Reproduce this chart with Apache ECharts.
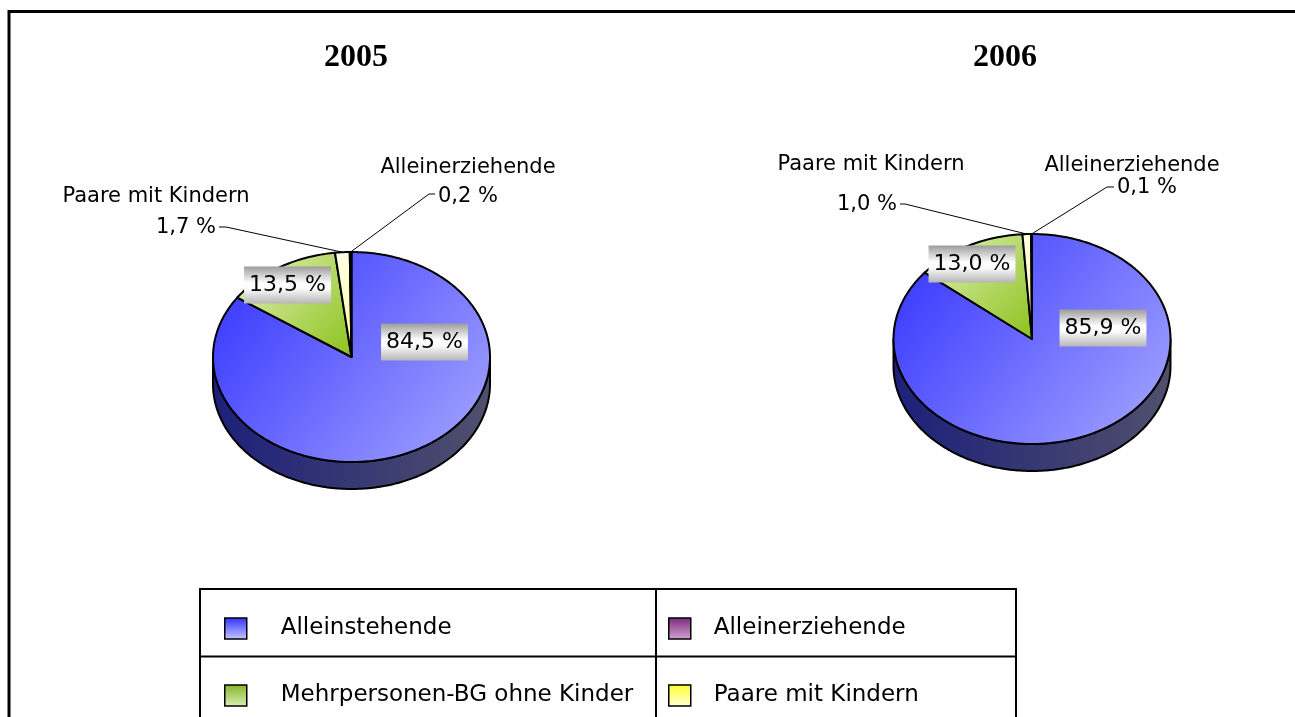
<!DOCTYPE html>
<html>
<head>
<meta charset="utf-8">
<title>Bedarfsgemeinschaften nach Typ 2005 / 2006</title>
<script src="https://cdn.jsdelivr.net/npm/echarts@6/dist/echarts.min.js"></script>
<style>
  html, body { margin: 0; padding: 0; background: #fff; }
  #main { width: 1295px; height: 717px; }
</style>
</head>
<body>
<div id="main"></div>
<script>
// Anteile (in %), Reihenfolge im Uhrzeigersinn ab 12 Uhr
var years = ['2005', '2006'];
var categories = ['Alleinstehende', 'Mehrpersonen-BG ohne Kinder', 'Paare mit Kindern', 'Alleinerziehende'];
var share2005 = [84.5, 13.5, 1.7, 0.2];
var share2006 = [85.9, 13.0, 1.0, 0.1];
var shares = [share2005, share2006];

// Legende in zwei Spalten
var legendCol1 = ['Alleinstehende', 'Mehrpersonen-BG ohne Kinder'];
var legendCol2 = ['Alleinerziehende', 'Paare mit Kindern'];

// --- Layout ---
var pieCenters = [[351.5, 357], [1032, 339]];
var titleX = [356, 1005];
var RX = 138.5, RY = 105, DEPTH = 27;
var FONT = 'DejaVu Sans';

// Farben je Kategorie: Oberseite, Seitenwand, Legendensymbol
var topColors = [['#3030ff', '#a8a8ff'], ['#e4f2bc', '#8cc21c'], ['#ffffe6', '#ffff9e'], ['#d0a0d0', '#993399']];
var sideColors = [['#1c207a', '#50506c'], ['#5a7a10', '#6a8a20'], ['#a0a060', '#b0b070'], ['#602060', '#703070']];
var legendColors = [['#3030ff', '#cacaff'], ['#84b426', '#ddefb6'], ['#ffff2e', '#ffffd8'], ['#7a2a7a', '#d4a4d4']];

// Beschriftung im Segment (Versatz zum Mittelpunkt)
var innerLabelPos = [
  [[73, -15], [-64, -72], null, null],
  [[71, -11], [-60, -75], null, null]
];
// Beschriftung außerhalb mit Führungslinie
var callouts = [
  [null, null,
    { name: [156, 197, 'center'], value: [216, 228, 'right'], elbow: [226, 227] },
    { name: [468, 168, 'center'], value: [438, 197, 'left'], elbow: [429, 194] }],
  [null, null,
    { name: [871, 165, 'center'], value: [897, 205, 'right'], elbow: [905, 204] },
    { name: [1132, 166, 'center'], value: [1117, 188, 'left'], elbow: [1107, 187] }]
];

function fmt(v) {
  return v.toFixed(1).replace('.', ',') + ' %';
}

function ellipsePt(c, a, dy) {
  return [c[0] + RX * Math.sin(a), c[1] - RY * Math.cos(a) + (dy || 0)];
}

function arcPts(c, a1, a2, dy) {
  var n = Math.max(2, Math.ceil((a2 - a1) / (Math.PI / 180)) + 1);
  var pts = [];
  for (var k = 0; k < n; k++) {
    pts.push(ellipsePt(c, a1 + (a2 - a1) * k / (n - 1), dy));
  }
  return pts;
}

function grad(x2, y2, cols) {
  return new echarts.graphic.LinearGradient(0, 0, x2, y2, [
    { offset: 0, color: cols[0] }, { offset: 1, color: cols[1] }
  ]);
}

function makeRender(ci) {
  return function (params, api) {
    var pi = params.dataIndex;
    var vals = shares[pi];
    var total = 0, before = 0;
    for (var j = 0; j < vals.length; j++) {
      total += vals[j];
      if (j < ci) before += vals[j];
    }
    var v = api.value(0);
    var a1 = before / total * Math.PI * 2;
    var a2 = (before + v) / total * Math.PI * 2;
    var c = pieCenters[pi];
    var children = [];

    // sichtbare Seitenwand (vordere Hälfte)
    var s = Math.max(a1, Math.PI / 2), e = Math.min(a2, Math.PI * 1.5);
    if (e > s) {
      var side = arcPts(c, s, e, 0).concat(arcPts(c, s, e, DEPTH).reverse());
      children.push({
        type: 'polygon',
        shape: { points: side },
        style: { fill: grad(1, 0, sideColors[ci]), stroke: '#000', lineWidth: 2, lineJoin: 'round' }
      });
    }

    // Oberseite
    children.push({
      type: 'polygon',
      shape: { points: [c].concat(arcPts(c, a1, a2, 0)) },
      style: { fill: grad(1, 1, topColors[ci]), stroke: '#000', lineWidth: 2, lineJoin: 'round' },
      z2: 1
    });

    var inner = innerLabelPos[pi][ci];
    if (inner) {
      children.push({
        type: 'text',
        x: c[0] + inner[0],
        y: c[1] + inner[1],
        z2: 100,
        style: {
          text: fmt(v),
          fontFamily: FONT,
          fontSize: 22,
          lineHeight: 25,
          fill: '#000',
          align: 'center',
          verticalAlign: 'middle',
          padding: [6, 5],
          backgroundColor: new echarts.graphic.LinearGradient(0, 0, 0, 1, [
            { offset: 0, color: '#9c9c9c' },
            { offset: 0.45, color: '#ffffff' },
            { offset: 0.6, color: '#fbfbfb' },
            { offset: 1, color: '#b6b6b6' }
          ])
        }
      });
    }

    var co = callouts[pi][ci];
    if (co) {
      var mid = ellipsePt(c, (a1 + a2) / 2, 0);
      var sx = co.value[2] === 'left' ? co.value[0] - 3 : co.value[0] + 3;
      children.push({
        type: 'polyline',
        z2: 90,
        shape: { points: [[sx, co.elbow[1]], co.elbow, mid] },
        style: { stroke: '#000', lineWidth: 1, fill: null }
      });
      children.push({
        type: 'text', x: co.name[0], y: co.name[1], z2: 100,
        style: { text: categories[ci], fontFamily: FONT, fontSize: 21, fill: '#000', align: co.name[2], verticalAlign: 'middle' }
      });
      children.push({
        type: 'text', x: co.value[0], y: co.value[1], z2: 100,
        style: { text: fmt(v), fontFamily: FONT, fontSize: 21, fill: '#000', align: co.value[2], verticalAlign: 'middle' }
      });
    }

    return { type: 'group', children: children };
  };
}

function legendItems(names) {
  return names.map(function (n) {
    var ci = categories.indexOf(n);
    return { name: n, itemStyle: { color: grad(0, 1, legendColors[ci]), borderColor: '#000', borderWidth: 1.5 } };
  });
}

function legendCfg(names, left, textPad) {
  return {
    data: legendItems(names),
    orient: 'vertical',
    left: left,
    top: 617,
    padding: 0,
    icon: 'rect',
    itemWidth: 22,
    itemHeight: 21,
    itemGap: 44,
    selectedMode: false,
    textStyle: { fontFamily: FONT, fontSize: 23, lineHeight: 21, color: '#000', padding: [0, 0, 0, textPad] }
  };
}

var chart = echarts.init(document.getElementById('main'), null, { renderer: 'canvas' });

chart.setOption({
  animation: false,
  backgroundColor: '#fff',
  title: years.map(function (y, i) {
    return {
      text: y,
      left: titleX[i],
      top: 42,
      padding: 0,
      textAlign: 'center',
      textStyle: { fontFamily: 'Liberation Serif', fontWeight: 'bold', fontSize: 32, color: '#000' }
    };
  }),
  legend: [legendCfg(legendCol1, 224, 29), legendCfg(legendCol2, 668, 18)],
  series: categories.map(function (name, ci) {
    return {
      type: 'custom',
      name: name,
      coordinateSystem: 'none',
      z: 2,
      silent: true,
      itemStyle: { color: topColors[ci][1] },
      renderItem: makeRender(ci),
      data: [share2005[ci], share2006[ci]]
    };
  }),
  graphic: [
    { type: 'polyline', shape: { points: [[9, 730], [9, 11.5], [1300, 11.5]] }, style: { stroke: '#000', lineWidth: 3, fill: null } },
    { type: 'rect', shape: { x: 200, y: 589, width: 816, height: 200 }, style: { fill: null, stroke: '#000', lineWidth: 2 } },
    { type: 'line', shape: { x1: 200, y1: 656.5, x2: 1016, y2: 656.5 }, style: { stroke: '#000', lineWidth: 2 } },
    { type: 'line', shape: { x1: 656, y1: 589, x2: 656, y2: 730 }, style: { stroke: '#000', lineWidth: 2 } }
  ]
});
</script>
</body>
</html>
